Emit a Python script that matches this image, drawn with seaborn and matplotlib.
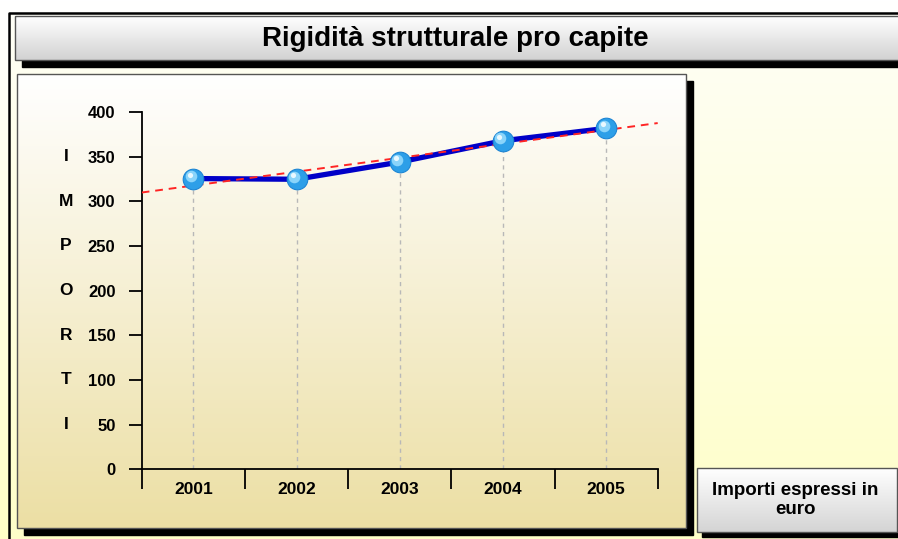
import numpy as np
import pandas as pd
import matplotlib
matplotlib.use("Agg")
import matplotlib.pyplot as plt
import matplotlib.patches as mpatches
import matplotlib.transforms as mtransforms
import seaborn as sns

# data
years = ["2001", "2002", "2003", "2004", "2005"]
values = [325.5, 324.7, 344.0, 367.8, 381.7]
y_ticks = [0, 50, 100, 150, 200, 250, 300, 350, 400]
axis_letters = ["I", "M", "P", "O", "R", "T", "I"]
title = "Rigidità strutturale pro capite"
note = "Importi espressi in\neuro"

sns.set_style("white")
plt.rcParams["font.family"] = ["Liberation Sans", "DejaVu Sans"]
plt.rcParams["font.weight"] = "bold"
plt.rcParams["text.color"] = "black"
plt.rcParams["xtick.color"] = "black"
plt.rcParams["ytick.color"] = "black"

W, H = 898, 539
fig = plt.figure(figsize=(W / 100, H / 100), dpi=100)

# background canvas in pixel coordinates
bg = fig.add_axes([0, 0, 1, 1])
bg.set_xlim(0, W)
bg.set_ylim(H, 0)
bg.axis("off")


def gradient(ax, x0, y0, x1, y1, c_top, c_bot, z):
    t = np.linspace(0, 1, 256)[:, None, None]
    a = np.array(matplotlib.colors.to_rgb(c_top))
    b = np.array(matplotlib.colors.to_rgb(c_bot))
    img = a * (1 - t) + b * t
    ax.imshow(img, extent=(x0, x1, y1, y0), aspect="auto",
              interpolation="bilinear", zorder=z)


def box(ax, x0, y0, x1, y1, c_top, c_bot, shadow, z, edge="#555555"):
    ax.add_patch(mpatches.Rectangle((x0 + shadow, y0 + shadow), x1 - x0, y1 - y0,
                                    color="black", zorder=z))
    gradient(ax, x0, y0, x1, y1, c_top, c_bot, z + 0.1)
    ax.add_patch(mpatches.Rectangle((x0, y0), x1 - x0, y1 - y0, fill=False,
                                    edgecolor=edge, lw=1, zorder=z + 0.2))


# page background with outer frame
gradient(bg, 0, 0, W, H, "#FFFFFF", "#FFFFC6", 0)
gradient(bg, 9, 13, W + 5, H + 5, "#FEFEF6", "#FFFFC8", 0.5)
bg.plot([9, 9, W + 5], [H + 5, 13, 13], color="black", lw=1.8, zorder=1)

# title bar
box(bg, 14.5, 16, W + 10, 60, "#FFFFFF", "#D2D2D2", 7, 2)
bg.text(455.5, 38.5, title, ha="center", va="center", fontsize=20,
        fontweight="bold", zorder=3)

# chart panel
box(bg, 17, 74, 686, 528, "#FFFFFF", "#ECDFA4", 7, 2)

# note box
box(bg, 697, 468, 897, 532, "#FFFFFF", "#D4D4D4", 5, 2)
bg.text(795, 500, note, ha="center", va="center", fontsize=13.5,
        fontweight="bold", linespacing=1.2, zorder=3)

# plotting area
x0, x1, yb, yt = 141.7, 657.7, 469.3, 112.0
ax = fig.add_axes([x0 / W, (H - yb) / H, (x1 - x0) / W, (yb - yt) / H])
ax.set_facecolor("none")

df = pd.DataFrame({"pos": np.arange(len(years)), "value": values})
ax.set_xlim(-0.5, len(years) - 0.5)
ax.set_ylim(0, 400)

ax.vlines(df["pos"], 0, df["value"], colors="#B8B8B8",
          linestyles=(0, (3, 3)), lw=1, zorder=2)
sns.lineplot(data=df, x="pos", y="value", color="#0000C8", lw=3.8,
             ax=ax, zorder=3)
sns.regplot(data=df, x="pos", y="value", scatter=False, ci=None,
            truncate=False, ax=ax,
            line_kws=dict(color="#FF2424", lw=1.4, ls=(0, (4, 3)), zorder=4))
ax.set_xlim(-0.5, len(years) - 0.5)

# spheres
ax.scatter(df["pos"], df["value"], s=220, color="#2D9FE8",
           edgecolor="#1E86D4", lw=0.8, zorder=5)
hl = mtransforms.offset_copy(ax.transData, fig=fig, x=-2.5, y=2.5, units="dots")
ax.scatter(df["pos"], df["value"], s=70, color="#8AD4FA", lw=0,
           transform=hl, zorder=6)
hl2 = mtransforms.offset_copy(ax.transData, fig=fig, x=-3.5, y=4, units="dots")
ax.scatter(df["pos"], df["value"], s=14, color="#E8F8FF", lw=0,
           transform=hl2, zorder=7)

# axes styling
for s in ["top", "right"]:
    ax.spines[s].set_visible(False)
for s in ["left", "bottom"]:
    ax.spines[s].set_color("black")
    ax.spines[s].set_linewidth(1.3)

ax.set_yticks(y_ticks)
ax.set_yticklabels([str(v) for v in y_ticks], fontsize=12, fontweight="bold")
ax.tick_params(axis="y", direction="out", length=9.4, width=1.3,
               pad=9.5, left=True)

ax.set_xticks(np.arange(len(years) + 1) - 0.5)
ax.set_xticklabels([])
ax.set_xticks(df["pos"], minor=True)
ax.set_xticklabels(years, minor=True, fontsize=12.5, fontweight="bold")
ax.tick_params(axis="x", which="major", direction="out", length=14.4,
               width=1.3, bottom=True)
ax.tick_params(axis="x", which="minor", length=0, pad=9.5)
ax.set_xlabel("")
ax.set_ylabel("")
ax.grid(False)

# vertical axis caption, one letter per row
lt = mtransforms.blended_transform_factory(ax.transAxes, ax.transData)
for ch, v in zip(axis_letters, y_ticks[-2:0:-1]):
    ax.text((66 - x0) / (x1 - x0), v, ch, transform=lt, ha="center",
            va="center", fontsize=12.5, fontweight="bold")

fig.savefig("out.png", dpi=100)
